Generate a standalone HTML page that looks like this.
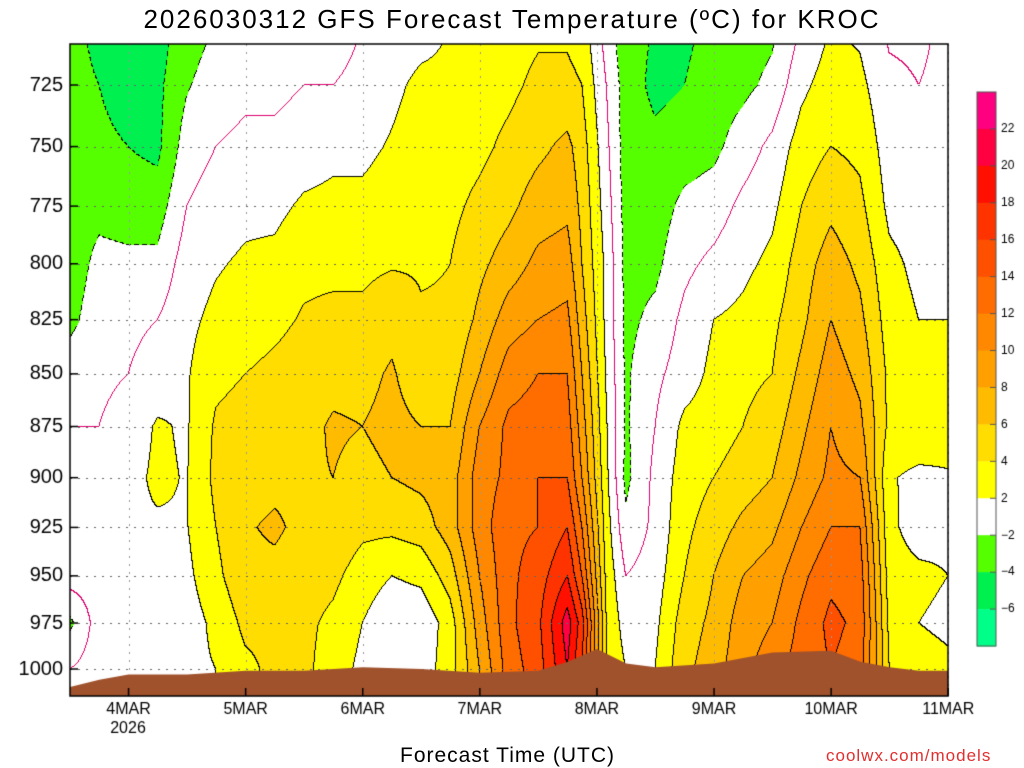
<!DOCTYPE html>
<html><head><meta charset="utf-8"><style>
body{margin:0;background:#fff;width:1024px;height:768px;overflow:hidden;font-family:"Liberation Sans",sans-serif;position:relative}
.t{position:absolute;color:#000;white-space:nowrap}
</style></head><body>
<div class="t" style="left:0;width:1024px;text-align:center;top:4px;font-size:26px;letter-spacing:2px">2026030312 GFS Forecast Temperature (ºC) for KROC</div>
<canvas id="c" width="1024" height="768" style="position:absolute;left:0;top:0"></canvas>
<div class="t" style="left:400px;top:744px;font-size:21px;letter-spacing:1px">Forecast Time (UTC)</div>
<div class="t" style="left:826px;top:746px;font-size:17px;color:#e03030;letter-spacing:1px">coolwx.com/models</div>
<script>
const hours=[0,6,12,18,24,30,36,42,48,54,60,66,72,78,84,90,96,102,105,110,114,120,126,132,138,144,150,156,162,168,174,180];
const levels=[700,725,750,775,800,825,850,875,900,925,950,975,1000];
const temps=[
[-3,-3,-3,-3,-3,-2.5,-1,0,0.5,1,1,-2.5,0],
[-5,-4,-3.5,-2.5,-1.5,-1,-0.5,0,1,1.5,1,1,1],
[-5,-5,-4,-3,-1.5,-0.5,0,1,1.5,1.8,1.5,1.5,1.5],
[-5,-4.5,-4.5,-3,-1.5,0,1,2.2,2.3,1.8,1,0.5,1],
[-3,-2.2,-1,0,1,1.5,1.8,1.8,1.9,1.9,1.5,1,1.5],
[-2,-1,0,1,1.8,2.5,3.5,4.3,4.5,4,3.5,2.5,2],
[-2,-0.5,0.5,1.5,2.3,3,4,4.8,5.3,5.8,5.5,4.5,3.5],
[-2.5,-0.5,0.5,1.5,2.5,3.5,4.5,5,5.5,6.3,5.5,4.5,4.5],
[-1,0,1,2.3,3.5,4.2,5,5.5,5.8,5.5,5,4.5,4.5],
[-1,0,1.5,2.5,3.5,4.5,5.5,6.2,6,5.5,4.5,3.5,3],
[0,0.5,1.5,2.5,3.5,4.5,5.5,6,5.5,4.5,3,2,1.5],
[0.5,1.5,2.2,3,3.8,5.5,6.2,6.5,6,4.5,2,0.5,0],
[1,2.5,3,3.5,3.8,4.2,5,6,6.5,5,2.5,0.5,1],
[2,2.5,3,3.5,4,4.2,5,6,7,7,5,3,3],
[2.5,3,3.5,4.5,5.5,6.5,8,10,11,11,10,9,8],
[3,3.5,4.5,5.5,7,9,11,12.5,12.5,13.5,13.5,13.5,13],
[3.5,4.5,5.5,7,8.5,10,12,13,14,14,15,15.5,15],
[3.5,4.5,6.5,7.5,9,10.5,12,13,14,16,18,21,20],
[3,4,5,5.5,6,7,8,9,10,12,14,17,16],
[-1,0,0.5,1,1.5,1.5,1.8,2.2,2.5,3,3.5,4,4],
[-3.5,-3,-3,-2.8,-2.6,-2.5,-2.3,-2.3,-2.5,-1.5,0,1,2],
[-4,-4.5,-3.5,-3,-2.5,-1.5,-0.5,0,0.5,0.5,1,1.5,2],
[-4.5,-4,-3,-1.5,-0.5,0.5,1,2.5,3,3.5,4,5,5.5],
[-3.5,-3,-2.5,-1,0.5,2,2.5,3,4,5,6,6.5,7],
[-3,-2.5,-1,0.5,1.5,2.5,3.5,4,5,6.5,8,9,9.5],
[-2.5,-1.5,0.5,1.5,2.5,3.5,4,5,6,7.5,9,10,11],
[0,1.5,3,4,5,5.5,6.5,7.5,8.5,10,11.5,12.5,13],
[2,3,4,5.5,7,8,9,10,10.5,12,13.5,14.5,14],
[1.5,2.5,3.5,4.5,5.5,6.5,7.5,8.5,10,12,13,13.5,13],
[-0.5,0.5,1,1.5,2.5,3,3.5,3.5,2.2,2.5,3,3.5,4],
[-0.5,0,0.5,1,1.5,2,3,3.5,1.5,1,2.5,2,3],
[0.5,0.5,0.5,1,1.5,2,2.5,3,1.8,1.5,2,1.5,2.5]];
const sfcHours=[0,6,12,24,36,48,60,72,84,96,102,108,114,120,132,144,156,162,168,174,180];
const sfcPres=[1010,1006,1003,1003,1001,1001,999,1000,1002,1001,996,989,997,999,997,991,990,996,999,1001,1001];
const xTickLabels=['4MAR','5MAR','6MAR','7MAR','8MAR','9MAR','10MAR','11MAR'];
const yTicks=[725,750,775,800,825,850,875,900,925,950,975,1000];
const cbLabels=[22,20,18,16,14,12,10,8,6,4,2,-2,-4,-6];

const X0=70,X1=948,Y0=44,Y1=696;
const LB=1816;
const xS=h=>X0+h*117.1/24;
const yS=p=>669-LB*Math.log(1000/p);
const hInv=x=>(x-X0)*24/117.1;
const pInv=y=>1000*Math.exp(-(669-y)/LB);
const binColors=['#00ff88','#00f050','#55ff00','#ffffff','#ffff00','#ffdd00','#ffbb00','#ffa000','#ff8800','#ff6c00','#ff5000','#ff3300','#ff1000','#ff0040','#ff0080'];
function bin(t){if(t<-6)return 0;if(t<-4)return 1;if(t<-2)return 2;if(t<2)return 3;let b=4+Math.floor((t-2)/2);return Math.min(b,14);}
function interp(arrX,x){if(x<=arrX[0])return 0;for(let i=0;i<arrX.length-1;i++)if(x<=arrX[i+1])return i+(x-arrX[i])/(arrX[i+1]-arrX[i]);return arrX.length-1.0001;}
function val(h,p){
 let pp=Math.max(700,Math.min(1000,p));
 let fi=interp(hours,h),fj=interp(levels,pp);
 let i=Math.min(Math.floor(fi),hours.length-2),j=Math.min(Math.floor(fj),levels.length-2);
 let a=fi-i,b=fj-j;
 return temps[i][j]*(1-a)*(1-b)+temps[i+1][j]*a*(1-b)+temps[i][j+1]*(1-a)*b+temps[i+1][j+1]*a*b;
}
const cv=document.getElementById('c'),ctx=cv.getContext('2d');
const W=X1-X0,H=Y1-Y0;
const img=ctx.createImageData(W,H);
const T=[];
for(let y=0;y<H;y++){T[y]=[];for(let x=0;x<W;x++)T[y][x]=val(hInv(X0+x+0.5),pInv(Y0+y+0.5));}
function hex(c){return [parseInt(c.substr(1,2),16),parseInt(c.substr(3,2),16),parseInt(c.substr(5,2),16)];}
const rgb=binColors.map(hex);
for(let y=0;y<H;y++)for(let x=0;x<W;x++){
 let t=T[y][x],b=bin(t),c=rgb[b];
 let bR=x<W-1?bin(T[y][x+1]):b,bD=y<H-1?bin(T[y+1][x]):b;
 let k=(y*W+x)*4;
 if(bR!==b||bD!==b){
  let neg=(Math.min(b,bR,bD)<3);
  if(!neg||((x+y)%8<5)){c=[0,0,0];}
 }
 let sR=x<W-1?T[y][x+1]:t,sD=y<H-1?T[y+1][x]:t;
 if((t<0)!==(sR<0)||(t<0)!==(sD<0))c=[220,0,110];
 img.data[k]=c[0];img.data[k+1]=c[1];img.data[k+2]=c[2];img.data[k+3]=255;
}
ctx.putImageData(img,X0,Y0);
ctx.strokeStyle='#666';ctx.lineWidth=1;ctx.setLineDash([2,6]);
yTicks.forEach(p=>{ctx.beginPath();ctx.moveTo(X0,Math.round(yS(p))+0.5);ctx.lineTo(X1,Math.round(yS(p))+0.5);ctx.stroke();});
ctx.strokeStyle='#999';
xTickLabels.forEach((l,i)=>{let x=Math.round(xS(12+24*i))+0.5;ctx.beginPath();ctx.moveTo(x,Y0);ctx.lineTo(x,Y1);ctx.stroke();});
ctx.setLineDash([]);
ctx.fillStyle='#a0522d';ctx.beginPath();ctx.moveTo(X0,Y1);
sfcHours.forEach((h,i)=>ctx.lineTo(xS(h),yS(sfcPres[i])));
ctx.lineTo(X1,Y1);ctx.closePath();ctx.fill();
ctx.strokeStyle='#000';ctx.lineWidth=1.5;ctx.strokeRect(X0,Y0,W,H);
ctx.fillStyle='#000';ctx.font='20px "Liberation Sans",sans-serif';ctx.textAlign='right';ctx.textBaseline='middle';
yTicks.forEach(p=>{let y=yS(p);ctx.fillText(String(p),63,y);ctx.beginPath();ctx.moveTo(X0,y);ctx.lineTo(X0+8,y);ctx.stroke();});
ctx.font='16px "Liberation Sans",sans-serif';
ctx.textAlign='center';ctx.textBaseline='top';
xTickLabels.forEach((l,i)=>{let x=xS(12+24*i);ctx.fillText(l,x,702);ctx.beginPath();ctx.moveTo(x,Y1);ctx.lineTo(x,Y1-8);ctx.stroke();});
ctx.fillText('2026',128,721);
const CB0=92,CBH=554/15;
for(let i=0;i<15;i++){ctx.fillStyle=binColors[14-i];ctx.fillRect(977,CB0+i*CBH,19,CBH+0.5);}
ctx.strokeStyle='#555';ctx.lineWidth=1;ctx.strokeRect(977,CB0,19,554);
ctx.fillStyle='#000';ctx.font='12px "Liberation Sans",sans-serif';ctx.textAlign='left';ctx.textBaseline='middle';
cbLabels.forEach((l,i)=>{let y=CB0+(i+1)*CBH;ctx.fillText(l<0?'\u2212'+(-l):String(l),1001,y);ctx.beginPath();ctx.moveTo(990,y);ctx.lineTo(996,y);ctx.stroke();});
</script>
</body></html>
